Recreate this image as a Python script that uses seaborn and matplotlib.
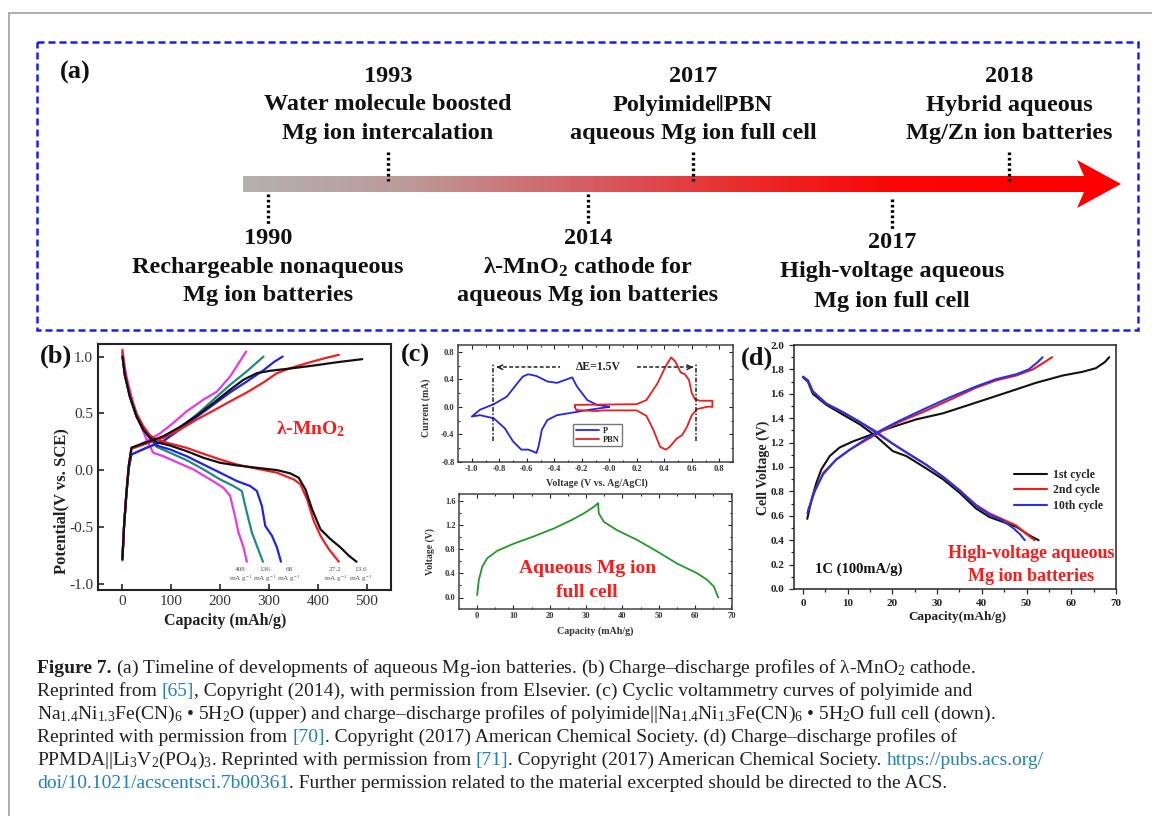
import matplotlib
matplotlib.use("Agg")
import numpy as np
import pandas as pd
import matplotlib.pyplot as plt
import seaborn as sns
from matplotlib.colors import LinearSegmentedColormap
from matplotlib.patches import Rectangle, Polygon
from matplotlib.ticker import MultipleLocator, FormatStrFormatter

sns.set_theme(style="ticks")
SERIF = ["Liberation Serif", "DejaVu Serif"]
plt.rcParams["font.family"] = SERIF
plt.rcParams.update({
    "mathtext.fontset": "custom",
    "mathtext.rm": "Liberation Serif",
    "mathtext.it": "Liberation Serif:italic",
    "mathtext.bf": "Liberation Serif:bold",
    "axes.unicode_minus": False,
})

# ---------------- (a) timeline ----------------
TIMELINE_YEARS = ["1990", "1993", "2014", "2017", "2017", "2018"]
TIMELINE_LINE1 = ["Rechargeable nonaqueous", "Water molecule boosted",
                  r"λ-MnO$_\mathbf{2}$ cathode for", "Polyimide‖PBN",
                  "High-voltage aqueous", "Hybrid aqueous"]
TIMELINE_LINE2 = ["Mg ion batteries", "Mg ion intercalation",
                  "aqueous Mg ion batteries", "aqueous Mg ion full cell",
                  "Mg ion full cell", "Mg/Zn ion batteries"]

# ---------------- (b) lambda-MnO2 charge/discharge ----------------
RATES = ["408", "136", "68", "27.2", "13.6"]
RATE_COLORS = {"408": "#e838e8", "136": "#1f8a80", "68": "#2222ee",
               "27.2": "#f02020", "13.6": "#111111"}
CHARGE_B = {
    "408": ([0, 3.4, 8.2, 13, 18.5, 49.3, 76.7, 104.1, 131.5, 165.8, 193, 220.5, 253.4],
            [-0.78, -0.49, -0.2, 0.04, 0.19, 0.257, 0.324, 0.417, 0.519, 0.621, 0.69, 0.825, 1.044]),
    "136": ([0, 3.4, 8.2, 13, 18.5, 49.3, 83.6, 117.8, 152.1, 186.3, 220.5, 254.8, 289],
            [-0.76, -0.48, -0.2, 0.02, 0.14, 0.2, 0.257, 0.373, 0.49, 0.621, 0.752, 0.87, 1.0]),
    "68": ([0, 3.4, 8.2, 13, 18.5, 49.3, 83.6, 117.8, 152.1, 186.3, 220.5, 254.8, 289, 309.6, 328.1],
           [-0.77, -0.48, -0.2, 0.02, 0.14, 0.198, 0.257, 0.359, 0.469, 0.577, 0.685, 0.781, 0.88, 0.95, 1.0]),
    "27.2": ([0, 3.4, 8.2, 13, 18.5, 49.3, 83.6, 117.8, 152.1, 186.3, 220.5, 254.8, 289, 316.4, 343.8, 378.1, 412.3, 443.2],
             [-0.79, -0.49, -0.2, 0.04, 0.19, 0.236, 0.286, 0.359, 0.446, 0.525, 0.606, 0.685, 0.773, 0.854, 0.898, 0.942, 0.983, 1.015]),
    "13.6": ([0, 3.4, 8.2, 13, 18.5, 35.6, 56.2, 83.6, 117.8, 152.1, 186.3, 220.5, 247.9, 275.3, 302.7, 343.8, 391.8, 439.7, 491.1],
             [-0.78, -0.49, -0.2, 0.04, 0.2, 0.227, 0.257, 0.3, 0.382, 0.481, 0.592, 0.708, 0.796, 0.854, 0.875, 0.895, 0.921, 0.95, 0.977]),
}
DISCHARGE_B = {
    "408": ([0, 8.2, 21.9, 35.6, 49.3, 63, 83.6, 111, 145.2, 179.5, 206.8, 220.5, 228.8, 237.7, 248, 254.8],
            [1.04, 0.825, 0.592, 0.417, 0.271, 0.155, 0.125, 0.073, 0.009, -0.079, -0.152, -0.224, -0.37, -0.545, -0.676, -0.802]),
    "136": ([0, 4.8, 15.1, 28.8, 42.5, 56.2, 69.9, 97.3, 131.5, 165.8, 200, 227.4, 244.5, 254.8, 265.1, 275.3, 287.7],
            [1.03, 0.85, 0.65, 0.475, 0.36, 0.285, 0.207, 0.155, 0.09, 0.009, -0.079, -0.137, -0.181, -0.37, -0.545, -0.662, -0.802]),
    "68": ([0, 4.8, 15.1, 28.8, 42.5, 56.2, 69.9, 97.3, 131.5, 165.8, 200, 234.2, 261.6, 275.3, 285.6, 292.5, 306.2, 316.4, 324.7],
           [1.0, 0.84, 0.65, 0.475, 0.36, 0.285, 0.219, 0.184, 0.125, 0.052, -0.02, -0.093, -0.137, -0.181, -0.312, -0.487, -0.574, -0.676, -0.802]),
    "27.2": ([0, 4.8, 15.1, 28.8, 42.5, 56.2, 69.9, 97.3, 131.5, 165.8, 200, 234.2, 275.3, 316.4, 350.7, 364.4, 378.1, 391.8, 405.5, 422.6, 443.2],
             [1.06, 0.87, 0.67, 0.5, 0.39, 0.31, 0.271, 0.236, 0.198, 0.146, 0.096, 0.052, 0.015, -0.02, -0.079, -0.122, -0.254, -0.443, -0.574, -0.691, -0.802]),
    "13.6": ([0, 4.8, 15.1, 28.8, 42.5, 56.2, 69.9, 97.3, 131.5, 165.8, 200, 234.2, 275.3, 316.4, 343.8, 361, 374.7, 388.4, 405.5, 426, 446.6, 463.7, 479.5],
             [1.0, 0.84, 0.65, 0.475, 0.36, 0.29, 0.248, 0.219, 0.169, 0.111, 0.067, 0.044, 0.023, 0.003, -0.026, -0.064, -0.166, -0.341, -0.516, -0.603, -0.676, -0.749, -0.802]),
}
RATE_LABEL_X = [242, 292, 341, 436, 488]

# ---------------- (c) CV of polyimide (P) and PBN ----------------
CV_P_V = [0.0, -0.09, -0.16, -0.236, -0.27, -0.31, -0.38, -0.45, -0.53, -0.59, -0.63, -0.67, -0.745,
          -0.84, -0.94, -1.0, -0.94, -0.84, -0.76, -0.70, -0.64, -0.59, -0.55, -0.53, -0.515, -0.49,
          -0.45, -0.38, -0.14, 0.0]
CV_P_I = [0.005, 0.03, 0.10, 0.30, 0.43, 0.40, 0.35, 0.37, 0.45, 0.475, 0.44, 0.34, 0.15,
          0.04, -0.04, -0.14, -0.12, -0.165, -0.31, -0.50, -0.62, -0.62, -0.65, -0.67, -0.58, -0.33,
          -0.19, -0.12, -0.04, 0.0]
CV_PBN_V = [-0.25, -0.25, 0.2, 0.27, 0.35, 0.41, 0.45, 0.48, 0.52, 0.55, 0.58, 0.60, 0.625, 0.66,
            0.75, 0.75, 0.72, 0.64, 0.60, 0.565, 0.53, 0.49, 0.44, 0.41, 0.37, 0.32, 0.27, 0.2,
            -0.04, -0.1, -0.24, -0.25]
CV_PBN_I = [0.0, 0.03, 0.04, 0.10, 0.34, 0.59, 0.72, 0.66, 0.50, 0.475, 0.39, 0.20, 0.11, 0.09,
            0.09, 0.0, 0.005, -0.03, -0.12, -0.29, -0.41, -0.46, -0.58, -0.62, -0.58, -0.33, -0.13, -0.05,
            -0.05, -0.06, -0.045, 0.0]

# ---------------- (c) full cell charge/discharge ----------------
FULL_CAP = [0, 0.46, 1.4, 2.8, 5.5, 10.1, 15.6, 21.1, 25.7, 29.4, 32.2, 33.3,
            33.5, 34.9, 38.6, 44.1, 49.6, 55.1, 60.6, 63.4, 65.2, 66.4]
FULL_V = [0.04, 0.29, 0.51, 0.65, 0.77, 0.89, 1.01, 1.14, 1.27, 1.39, 1.5, 1.56,
          1.39, 1.25, 1.11, 0.95, 0.76, 0.56, 0.40, 0.29, 0.18, 0.0]

# ---------------- (d) PPMDA||LVP cycles ----------------
CYCLES = ["1st cycle", "2nd cycle", "10th cycle"]
CYCLE_COLORS = {"1st cycle": "#111111", "2nd cycle": "#f01c1c", "10th cycle": "#2233ee"}
CHARGE_D = {
    "1st cycle": ([0.97, 1.9, 3.0, 4.1, 6.0, 8.2, 11.2, 14.9, 19.4, 25.3, 31.3, 37.2, 44.7, 52.1, 58.1, 62.5, 65.5, 67.5, 68.5],
                  [0.575, 0.73, 0.87, 0.98, 1.09, 1.16, 1.21, 1.26, 1.32, 1.39, 1.44, 1.51, 1.60, 1.69, 1.75, 1.78, 1.81, 1.86, 1.90]),
    "2nd cycle": ([1.1, 2.6, 4.5, 7.4, 10.4, 14.1, 17.9, 21.6, 26.8, 32.8, 38.7, 43.2, 47.7, 51.4, 53.6, 55.7],
                  [0.64, 0.80, 0.95, 1.06, 1.14, 1.22, 1.30, 1.37, 1.45, 1.55, 1.65, 1.71, 1.75, 1.80, 1.85, 1.90]),
    "10th cycle": ([1.0, 2.6, 4.5, 7.4, 10.4, 14.1, 17.9, 21.6, 26.8, 32.8, 38.7, 43.2, 47.7, 50.5, 52.5, 53.6],
                   [0.62, 0.80, 0.94, 1.06, 1.14, 1.23, 1.31, 1.38, 1.47, 1.57, 1.66, 1.72, 1.76, 1.80, 1.86, 1.90]),
}
DISCHARGE_D = {
    "1st cycle": ([0, 1.1, 2.2, 5.2, 8.9, 12.7, 16.4, 20.1, 23.1, 27.5, 31.3, 35.0, 38.7, 41.7, 44.7, 47.7, 50.6, 52.7],
                  [1.735, 1.70, 1.60, 1.51, 1.43, 1.35, 1.25, 1.13, 1.09, 0.99, 0.90, 0.79, 0.66, 0.59, 0.55, 0.51, 0.44, 0.40]),
    "2nd cycle": ([0, 1.1, 2.2, 5.2, 8.9, 12.7, 16.4, 20.1, 23.1, 27.5, 31.3, 35.0, 38.7, 41.7, 44.7, 47.7, 50.0, 51.8],
                  [1.74, 1.71, 1.62, 1.52, 1.45, 1.37, 1.29, 1.19, 1.12, 1.02, 0.92, 0.81, 0.69, 0.62, 0.57, 0.52, 0.45, 0.40]),
    "10th cycle": ([0, 1.1, 2.2, 5.2, 8.9, 12.7, 16.4, 20.1, 23.1, 27.5, 31.3, 35.0, 38.7, 41.7, 44.7, 47.0, 48.5, 49.6],
                   [1.74, 1.71, 1.62, 1.52, 1.45, 1.37, 1.28, 1.19, 1.12, 1.02, 0.92, 0.81, 0.68, 0.61, 0.56, 0.50, 0.45, 0.40]),
}

# ---------------- caption ----------------
INK = "#231f20"
LINK = "#1f80c0"
CAPTION = [
    [("Figure 7. ", "bold", INK),
     ("(a) Timeline of developments of aqueous Mg-ion batteries. (b) Charge–discharge profiles of λ-MnO$_2$ cathode.", "normal", INK)],
    [("Reprinted from ", "normal", INK), ("[65]", "normal", LINK),
     (", Copyright (2014), with permission from Elsevier. (c) Cyclic voltammetry curves of polyimide and", "normal", INK)],
    [("Na$_{1.4}$Ni$_{1.3}$Fe(CN)$_6$ • 5H$_2$O (upper) and charge–discharge profiles of polyimide||Na$_{1.4}$Ni$_{1.3}$Fe(CN)$_6$ • 5H$_2$O full cell (down).", "normal", INK)],
    [("Reprinted with permission from ", "normal", INK), ("[70]", "normal", LINK),
     (". Copyright (2017) American Chemical Society. (d) Charge–discharge profiles of", "normal", INK)],
    [("PPMDA||Li$_3$V$_2$(PO$_4$)$_3$. Reprinted with permission from ", "normal", INK), ("[71]", "normal", LINK),
     (". Copyright (2017) American Chemical Society. ", "normal", INK), ("https://pubs.acs.org/", "normal", LINK)],
    [("doi/10.1021/acscentsci.7b00361", "normal", LINK),
     (". Further permission related to the material excerpted should be directed to the ACS.", "normal", INK)],
]

# =====================================================================
W, H = 1152, 816
fig = plt.figure(figsize=(W / 100, H / 100), dpi=100, facecolor="white")


def add_axes_px(left, top, right, bottom):
    return fig.add_axes([left / W, 1 - bottom / H, (right - left) / W, (bottom - top) / H])


def px_text(x, y, s, **kw):
    return fig.text(x / W, 1 - y / H, s, **kw)


# canvas layer in pixel units for the page frame and the timeline
page = fig.add_axes([0, 0, 1, 1])
page.set_xlim(0, W)
page.set_ylim(H, 0)
page.axis("off")
page.plot([9, W], [13, 13], color="#a8a8a8", lw=1.3)
page.plot([9, 9], [13, H], color="#a8a8a8", lw=1.3)
page.add_patch(Rectangle((37, 42), 1101, 288, fill=False, edgecolor="#1a1aff",
                         lw=1.8, linestyle=(0, (2.8, 1.6))))

# gradient timeline arrow
grad_cmap = LinearSegmentedColormap.from_list(
    "timeline", [(0.0, "#b4b0b0"), (0.19, "#bd9a9a"), (0.42, "#d65a60"),
                 (0.6, "#eb2a2a"), (0.78, "#fa0505"), (1.0, "#ff0000")])
page.imshow(np.linspace(0, 1, 400)[None, :], extent=[243, 1086, 192, 176],
            aspect="auto", cmap=grad_cmap, zorder=2)
page.add_patch(Polygon([(1084, 176), (1077, 160), (1121, 184), (1077, 208), (1084, 192)],
                       closed=True, color="#ff0000", lw=0, zorder=3))
page.set_xlim(0, W)
page.set_ylim(H, 0)

TICK_X = [268, 388, 588, 693, 892, 1009]
ABOVE = [False, True, False, True, False, True]
SHIFT = [0, 0, 0, 0, 5, 0]
for x, yr, l1, l2, above, dy in zip(TICK_X, TIMELINE_YEARS, TIMELINE_LINE1, TIMELINE_LINE2, ABOVE, SHIFT):
    if above:
        page.plot([x, x], [152, 181], color="black", lw=2.4, linestyle=(0, (0.8, 0.8)))
        ys = [76, 105, 134]
    else:
        page.plot([x, x], [194 + dy, 224 + dy], color="black", lw=2.4, linestyle=(0, (0.8, 0.8)))
        ys = [238 + dy, 267 + dy, 296 + dy]
    for s, y in zip([yr, l1, l2], ys):
        page.text(x, y, s, ha="center", va="center", fontsize=17.5, fontweight="bold",
                  color="#111111", family=SERIF)

# panel letters
for s, x, y in [("(a)", 75, 72), ("(b)", 56, 356), ("(c)", 415, 355), ("(d)", 757, 358)]:
    px_text(x, y, s, ha="center", va="center", fontsize=19, fontweight="bold", color="#111111")


def center_labels(ax, xl, yl):
    ax.xaxis.label.set_verticalalignment("center")
    ax.yaxis.label.set_verticalalignment("center")
    ax.xaxis.set_label_coords(*xl)
    ax.yaxis.set_label_coords(*yl)


# ---------------- (b) ----------------
rows = []
for r in RATES:
    for branch, table in (("charge", CHARGE_B), ("discharge", DISCHARGE_B)):
        xs, ys = table[r]
        for xv, yv in zip(xs, ys):
            rows.append((r, f"{r}-{branch}", xv, yv))
df_b = pd.DataFrame(rows, columns=["rate", "branch", "capacity", "potential"])

ax_b = add_axes_px(98, 344, 391, 590)
sns.lineplot(data=df_b, x="capacity", y="potential", hue="rate", units="branch",
             estimator=None, sort=False, palette=RATE_COLORS, lw=1.6, legend=False, ax=ax_b)
ax_b.set_xlim(-50, 550)
ax_b.set_ylim(-1.05, 1.11)
ax_b.set_xticks([0, 100, 200, 300, 400, 500])
ax_b.set_yticks([-1.0, -0.5, 0.0, 0.5, 1.0])
ax_b.yaxis.set_major_formatter(FormatStrFormatter("%.1f"))
ax_b.tick_params(direction="in", length=4, width=1.2, labelsize=11, labelcolor="#333333")
for sp in ax_b.spines.values():
    sp.set_linewidth(1.5)
    sp.set_color("#222222")
ax_b.set_xlabel("Capacity (mAh/g)", fontsize=11.5, fontweight="bold", color="#222222")
ax_b.set_ylabel("Potential(V vs. SCE)", fontsize=12, fontweight="bold", color="#222222")
center_labels(ax_b, (0.433, -0.126), (-0.126, 0.36))
for x, r in zip(RATE_LABEL_X, RATES):
    ax_b.text(x, -0.87, r, ha="center", va="center", fontsize=5.2, color="#555555")
    ax_b.text(x, -0.955, r"mA g$^{-1}$", ha="center", va="center", fontsize=5.2, color="#555555")
ax_b.text(385, 0.36, r"λ-MnO$_\mathbf{2}$", ha="center", va="center", fontsize=14,
          fontweight="bold", color="#ff1a1a")

# ---------------- (c) upper: CV ----------------
df_cv = pd.concat([
    pd.DataFrame({"voltage": CV_P_V, "current": CV_P_I, "electrode": "P"}),
    pd.DataFrame({"voltage": CV_PBN_V, "current": CV_PBN_I, "electrode": "PBN"}),
])
ax_c1 = add_axes_px(458, 345, 733, 462)
sns.lineplot(data=df_cv, x="voltage", y="current", hue="electrode", units="electrode",
             estimator=None, sort=False, palette={"P": "#2424f0", "PBN": "#f01c1c"},
             lw=1.3, ax=ax_c1)
ax_c1.set_xlim(-1.1, 0.9)
ax_c1.set_ylim(-0.8, 0.9)
ax_c1.set_xticks(np.round(np.arange(-1.0, 0.81, 0.2), 1))
ax_c1.set_yticks([-0.8, -0.4, 0.0, 0.4, 0.8])
ax_c1.xaxis.set_major_formatter(FormatStrFormatter("%.1f"))
ax_c1.yaxis.set_major_formatter(FormatStrFormatter("%.1f"))
ax_c1.xaxis.set_minor_locator(MultipleLocator(0.1))
ax_c1.yaxis.set_minor_locator(MultipleLocator(0.2))
ax_c1.tick_params(which="both", direction="in", top=True, right=True, width=0.8)
ax_c1.tick_params(which="major", length=3, labelsize=6, labelcolor="#333333", pad=2.5)
ax_c1.tick_params(which="minor", length=1.6)
for lab in ax_c1.get_xticklabels() + ax_c1.get_yticklabels():
    lab.set_fontweight("bold")
for sp in ax_c1.spines.values():
    sp.set_linewidth(1.1)
    sp.set_color("#444444")
ax_c1.set_xlabel("Voltage (V vs. Ag/AgCl)", fontsize=7.2, fontweight="bold", color="#333333")
ax_c1.set_ylabel("Current (mA)", fontsize=7, fontweight="bold", color="#333333")
center_labels(ax_c1, (0.505, -0.18), (-0.116, 0.46))
handles, labels = ax_c1.get_legend_handles_labels()
ax_c1.legend(handles, labels, loc="center", bbox_to_anchor=(0.508, 0.229),
             prop={"weight": "bold", "size": 6, "family": SERIF}, frameon=True,
             fancybox=False, edgecolor="#777777", framealpha=1, handlelength=2.8,
             borderpad=0.3, labelspacing=0.15, handletextpad=0.4)
# peak separation marker
for xv in (-0.842, 0.633):
    ax_c1.plot([xv, xv], [-0.5, 0.635], color="#222222", lw=1.1, linestyle=(0, (3, 1.2, 1, 1.2)))
ax_c1.plot([-0.82, -0.36], [0.577, 0.577], color="#222222", lw=1.1, linestyle=(0, (2.5, 1.5)))
ax_c1.plot([0.2, 0.61], [0.577, 0.577], color="#222222", lw=1.1, linestyle=(0, (2.5, 1.5)))
ax_c1.annotate("", xy=(-0.84, 0.577), xytext=(-0.79, 0.577),
               arrowprops=dict(arrowstyle="->", lw=1.1, color="#222222", mutation_scale=8))
ax_c1.annotate("", xy=(0.63, 0.577), xytext=(0.58, 0.577),
               arrowprops=dict(arrowstyle="->", lw=1.1, color="#222222", mutation_scale=8))
ax_c1.text(-0.078, 0.585, "ΔE=1.5V", ha="center", va="center", fontsize=8.5,
           fontweight="bold", color="#222222")

# ---------------- (c) lower: full cell ----------------
df_full = pd.DataFrame({"capacity": FULL_CAP, "voltage": FULL_V})
ax_c2 = add_axes_px(459, 494, 732, 609)
sns.lineplot(data=df_full, x="capacity", y="voltage", estimator=None, sort=False,
             color="#229a2a", lw=1.3, ax=ax_c2)
ax_c2.set_xlim(-5, 70.2)
ax_c2.set_ylim(-0.19, 1.71)
ax_c2.set_xticks(range(0, 71, 10))
ax_c2.set_yticks([0.0, 0.4, 0.8, 1.2, 1.6])
ax_c2.yaxis.set_major_formatter(FormatStrFormatter("%.1f"))
ax_c2.xaxis.set_minor_locator(MultipleLocator(5))
ax_c2.yaxis.set_minor_locator(MultipleLocator(0.2))
ax_c2.tick_params(which="both", direction="in", top=True, right=True, width=0.8)
ax_c2.tick_params(which="major", length=3, labelsize=6, labelcolor="#333333", pad=2.5)
ax_c2.tick_params(which="minor", length=1.6)
for lab in ax_c2.get_xticklabels() + ax_c2.get_yticklabels():
    lab.set_fontweight("bold")
for sp in ax_c2.spines.values():
    sp.set_linewidth(1.1)
    sp.set_color("#444444")
ax_c2.set_xlabel("Capacity (mAh/g)", fontsize=7.2, fontweight="bold", color="#333333")
ax_c2.set_ylabel("Voltage (V)", fontsize=7, fontweight="bold", color="#333333")
center_labels(ax_c2, (0.498, -0.19), (-0.106, 0.496))
ax_c2.text(30.3, 0.48, "Aqueous Mg ion", ha="center", va="center", fontsize=14,
           fontweight="bold", color="#ff1a1a")
ax_c2.text(30.3, 0.09, "full cell", ha="center", va="center", fontsize=14,
           fontweight="bold", color="#ff1a1a")

# ---------------- (d) ----------------
rows = []
for c in CYCLES:
    for branch, table in (("charge", CHARGE_D), ("discharge", DISCHARGE_D)):
        xs, ys = table[c]
        for xv, yv in zip(xs, ys):
            rows.append((c, f"{c}-{branch}", xv, yv))
df_d = pd.DataFrame(rows, columns=["cycle", "branch", "capacity", "voltage"])
ax_d = add_axes_px(794, 345, 1116, 589)
sns.lineplot(data=df_d, x="capacity", y="voltage", hue="cycle", units="branch",
             estimator=None, sort=False, palette=CYCLE_COLORS, lw=1.5, ax=ax_d)
ax_d.set_xlim(-2, 70)
ax_d.set_ylim(0, 2.0)
ax_d.set_xticks(range(0, 71, 10))
ax_d.set_yticks(np.round(np.arange(0, 2.01, 0.2), 1))
ax_d.yaxis.set_major_formatter(FormatStrFormatter("%.1f"))
ax_d.xaxis.set_minor_locator(MultipleLocator(5))
ax_d.yaxis.set_minor_locator(MultipleLocator(0.1))
ax_d.tick_params(which="both", direction="out", width=0.9)
ax_d.tick_params(which="major", length=3.5, labelsize=8, labelcolor="#222222")
ax_d.tick_params(which="minor", length=2)
for lab in ax_d.get_xticklabels() + ax_d.get_yticklabels():
    lab.set_fontweight("bold")
for sp in ax_d.spines.values():
    sp.set_linewidth(1.2)
    sp.set_color("#333333")
ax_d.set_xlabel("Capacity(mAh/g)", fontsize=9.5, fontweight="bold", color="#222222")
ax_d.set_ylabel("Cell Voltage (V)", fontsize=10, fontweight="bold", color="#222222")
center_labels(ax_d, (0.509, -0.115), (-0.096, 0.496))
handles, labels = ax_d.get_legend_handles_labels()
ax_d.legend(handles, labels, loc="center", bbox_to_anchor=(0.822, 0.405), frameon=False,
            prop={"weight": "bold", "size": 8.5, "family": SERIF}, handlelength=2.8,
            labelspacing=0.3, handletextpad=0.5)
ax_d.text(2.6, 0.16, "1C (100mA/g)", ha="left", va="center", fontsize=10.5,
          fontweight="bold", color="#111111")
ax_d.text(51, 0.29, "High-voltage aqueous", ha="center", va="center", fontsize=13,
          fontweight="bold", color="#ff1a1a")
ax_d.text(51, 0.10, "Mg ion batteries", ha="center", va="center", fontsize=13,
          fontweight="bold", color="#ff1a1a")

# ---------------- caption, laid out segment by segment ----------------
renderer = fig.canvas.get_renderer()
CAP_SIZE = 14


def seg_width(s, weight):
    probe = fig.text(0, 0, s + "|", fontsize=CAP_SIZE, fontweight=weight)
    w1 = probe.get_window_extent(renderer).width
    probe.remove()
    probe = fig.text(0, 0, "|", fontsize=CAP_SIZE, fontweight=weight)
    w2 = probe.get_window_extent(renderer).width
    probe.remove()
    return w1 - w2


for i, line in enumerate(CAPTION):
    x = 37.0
    y = 673 + 23 * i
    for s, weight, color in line:
        px_text(x, y, s, ha="left", va="baseline", fontsize=CAP_SIZE,
                fontweight=weight, color=color)
        x += seg_width(s, weight)

fig.savefig("out.png", dpi=100, facecolor="white")
